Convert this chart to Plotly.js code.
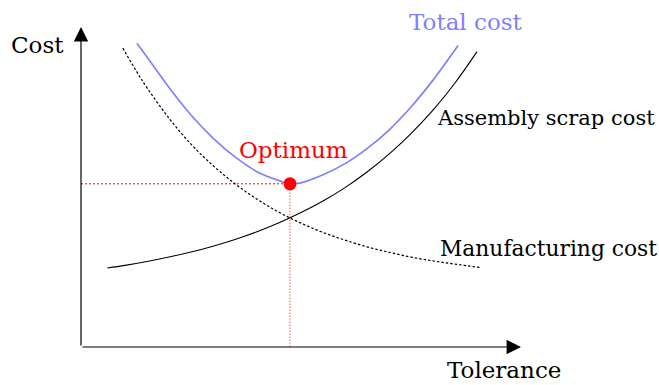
<!DOCTYPE html>
<html>
<head>
<meta charset="utf-8">
<script src="https://cdn.plot.ly/plotly-3.0.1.min.js"></script>
<style>
  html, body { margin: 0; padding: 0; background: #fff; }
  #chart { width: 659px; height: 385px; }
</style>
</head>
<body>
<div id="chart"></div>
<script>
// Tolerance / cost trade-off curves (arbitrary units)

// Assembly scrap cost: rises as tolerance widens
const scrapTol  = [0.6, 1.0, 1.5, 2.0, 2.5, 3.0, 3.5, 4.0, 4.5, 5.0, 5.5, 6.0, 6.5, 7.0, 7.5, 8.0, 8.5, 9.0];
const scrapCost = [2.47, 2.55, 2.67, 2.81, 2.97, 3.15, 3.36, 3.60, 3.88, 4.20, 4.56, 4.98, 5.47, 6.03, 6.67, 7.40, 8.25, 9.23];

// Manufacturing cost: falls as tolerance widens
const mfgTol  = [0.95, 1.25, 1.5, 2.0, 2.5, 3.0, 3.5, 4.0, 4.5, 5.0, 5.5, 6.0, 6.5, 7.0, 7.5, 8.0, 8.5, 9.1];
const mfgCost = [9.34, 8.64, 8.10, 7.15, 6.34, 5.67, 5.10, 4.62, 4.21, 3.87, 3.58, 3.34, 3.13, 2.96, 2.81, 2.69, 2.59, 2.48];

// Total cost
const totalTol  = [1.27, 1.5, 2.0, 2.5, 3.0, 3.5, 4.0, 4.5, 4.75, 5.0, 5.5, 6.0, 6.5, 7.0, 7.5, 8.0, 8.57];
const totalCost = [9.49, 9.06, 8.11, 7.25, 6.53, 5.94, 5.48, 5.20, 5.10, 5.13, 5.38, 5.73, 6.20, 6.78, 7.50, 8.34, 9.42];

// Optimum point (minimum of the total cost)
const optTol  = [4.75];
const optCost = [5.10];

// Axis extents
const tolMax  = 10;
const costMax = 10;

const FONT = 'DejaVu Serif, serif';
const BLUE = '#8080ff';
const RED  = '#ff0000';

const traces = [
  // guide lines to the optimum
  {
    x: [0, optTol[0]], y: [optCost[0], optCost[0]],
    mode: 'lines', line: { color: 'rgba(210,0,0,0.95)', width: 1, dash: '2px,2px' },
    hoverinfo: 'skip'
  },
  {
    x: [optTol[0], optTol[0]], y: [0, optCost[0]],
    mode: 'lines', line: { color: 'rgba(255,60,60,0.8)', width: 1.1, dash: '1.5px,1.5px' },
    hoverinfo: 'skip'
  },
  {
    name: 'Manufacturing cost', x: mfgTol, y: mfgCost,
    mode: 'lines', line: { color: '#000', width: 1.2, dash: '2.5px,2px', shape: 'spline', smoothing: 1 }
  },
  {
    name: 'Assembly scrap cost', x: scrapTol, y: scrapCost,
    mode: 'lines', line: { color: '#000', width: 1.1, shape: 'spline', smoothing: 1 }
  },
  {
    name: 'Total cost', x: totalTol, y: totalCost,
    mode: 'lines', line: { color: BLUE, width: 1.7, shape: 'spline', smoothing: 1 }
  },
  {
    name: 'Optimum', x: optTol, y: optCost,
    mode: 'markers', marker: { color: RED, size: 13 }
  }
];

function axisArrow(x0, y0, x1, y1) {
  return {
    x: x1, y: y1, ax: x0, ay: y0,
    xref: 'x', yref: 'y', axref: 'x', ayref: 'y',
    text: '', showarrow: true,
    arrowhead: 2, arrowsize: 2.4, arrowwidth: 1.2, arrowcolor: '#000'
  };
}

// labels placed in paper coordinates so they may sit outside the plot area
function label(text, x, y, xanchor, size, color) {
  return {
    x: x, y: y, xref: 'paper', yref: 'paper',
    text: text, showarrow: false,
    xanchor: xanchor, yanchor: 'middle',
    font: { family: FONT, size: size, color: color || '#000' }
  };
}

const layout = {
  width: 659, height: 385,
  margin: { l: 81, r: 138, t: 27, b: 38 },
  paper_bgcolor: '#fff', plot_bgcolor: '#fff',
  showlegend: false,
  xaxis: { range: [0, tolMax], visible: false, fixedrange: true },
  yaxis: { range: [0, costMax], visible: false, fixedrange: true },
  annotations: [
    axisArrow(0, 0, tolMax, 0),
    axisArrow(0, 0, 0, costMax),
    label('Cost', -0.098, 0.944, 'center', 23),
    label('Tolerance', 0.961, -0.072, 'center', 23),
    label('Total cost', 0.875, 1.016, 'center', 23, BLUE),
    label('Optimum', 0.484, 0.616, 'center', 23, RED),
    label('Assembly scrap cost', 0.8045, 0.716, 'left', 21),
    label('Manufacturing cost', 0.811, 0.309, 'left', 21.8)
  ]
};

Plotly.newPlot('chart', traces, layout, { staticPlot: true, displayModeBar: false });
</script>
</body>
</html>
